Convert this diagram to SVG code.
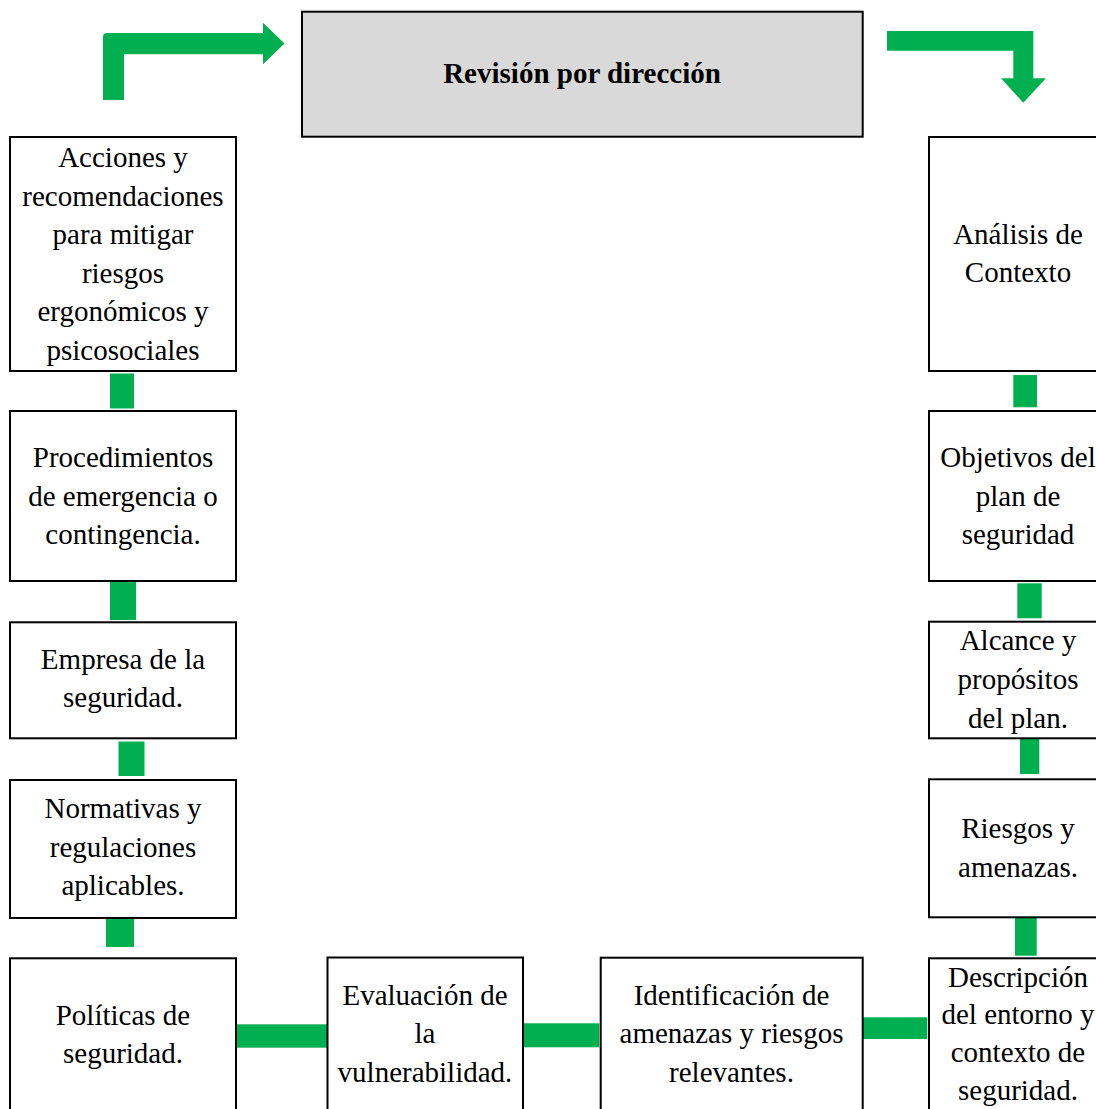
<svg xmlns="http://www.w3.org/2000/svg" width="1096" height="1109" viewBox="0 0 1096 1109">
<style>
.box{fill:#fff;stroke:#000;stroke-width:2}
.head{fill:#d9d9d9;stroke:#000;stroke-width:2}
.conn{fill:#00b050}
text{font-family:"Liberation Serif","Times New Roman",serif;font-size:29px;fill:#000;text-anchor:middle}
.bold{font-weight:bold}
</style>
<rect x="0" y="0" width="1096" height="1109" fill="#fff"/>
<g id="connectors">
<path class="conn" d="M103,100 L103,37 Q103,33 107,33 L263,33 L263,22.7 L284.5,43.5 L263,64.3 L263,54.3 L124,54.3 L124,100 Z"/>
<path class="conn" d="M887,31 L1033.3,31 L1033.3,78.3 L1046,78.3 L1023.3,102.7 L1001,78.3 L1013.3,78.3 L1013.3,50.7 L887,50.7 Z"/>
<rect class="conn" x="110" y="373.5" width="24" height="35"/>
<rect class="conn" x="110" y="581" width="26" height="39"/>
<rect class="conn" x="118.5" y="741.5" width="26" height="34.5"/>
<rect class="conn" x="106" y="908" width="28" height="39"/>
<rect class="conn" x="235" y="1024.3" width="97.7" height="23.4"/>
<rect class="conn" x="521.7" y="1023.3" width="77.6" height="24"/>
<rect class="conn" x="853.3" y="1017.3" width="74" height="21.7"/>
<rect class="conn" x="1013.3" y="375" width="23.7" height="32.3"/>
<rect class="conn" x="1017.3" y="583.3" width="24.4" height="35"/>
<rect class="conn" x="1020" y="737.3" width="19.3" height="36.7"/>
<rect class="conn" x="1015" y="916" width="21.7" height="39.7"/>
</g>
<g id="n-revision">
<rect class="head" x="302" y="11.7" width="560.7" height="125"/>
<text class="bold" x="582" y="83">Revisión por dirección</text>
</g>
<g id="n-acciones">
<rect class="box" x="10" y="137" width="226" height="234"/>
<text x="123"><tspan x="123" y="167">Acciones y</tspan><tspan x="123" y="205.6">recomendaciones</tspan><tspan x="123" y="244.2">para mitigar</tspan><tspan x="123" y="282.8">riesgos</tspan><tspan x="123" y="321.4">ergonómicos y</tspan><tspan x="123" y="360">psicosociales</tspan></text>
</g>
<g id="n-procedimientos">
<rect class="box" x="10" y="411" width="226" height="170"/>
<text><tspan x="123" y="467">Procedimientos</tspan><tspan x="123" y="506">de emergencia o</tspan><tspan x="123" y="544">contingencia.</tspan></text>
</g>
<g id="n-empresa">
<rect class="box" x="10" y="622.3" width="226" height="116"/>
<text><tspan x="123" y="669">Empresa de la</tspan><tspan x="123" y="707">seguridad.</tspan></text>
</g>
<g id="n-normativas">
<rect class="box" x="10" y="780" width="226" height="138"/>
<text><tspan x="123" y="818">Normativas y</tspan><tspan x="123" y="857">regulaciones</tspan><tspan x="123" y="895">aplicables.</tspan></text>
</g>
<g id="n-politicas">
<rect class="box" x="10" y="958.3" width="226" height="170"/>
<text><tspan x="123" y="1024.5">Políticas de</tspan><tspan x="123" y="1063.3">seguridad.</tspan></text>
</g>
<g id="n-evaluacion">
<rect class="box" x="327.5" y="957.5" width="195.5" height="170"/>
<text><tspan x="425" y="1005">Evaluación de</tspan><tspan x="425" y="1042.5">la</tspan><tspan x="425" y="1081.7">vulnerabilidad.</tspan></text>
</g>
<g id="n-identificacion">
<rect class="box" x="600.7" y="957.7" width="262" height="170"/>
<text><tspan x="731.5" y="1005">Identificación de</tspan><tspan x="731.5" y="1043.3">amenazas y riesgos</tspan><tspan x="731.5" y="1081.7">relevantes.</tspan></text>
</g>
<g id="n-descripcion">
<rect class="box" x="929" y="958.3" width="178" height="170"/>
<text><tspan x="1018" y="986.7">Descripción</tspan><tspan x="1018" y="1023.5">del entorno y</tspan><tspan x="1018" y="1061.7">contexto de</tspan><tspan x="1018" y="1100">seguridad.</tspan></text>
</g>
<g id="n-riesgos">
<rect class="box" x="929" y="779.3" width="178" height="138"/>
<text><tspan x="1018" y="838">Riesgos y</tspan><tspan x="1018" y="877">amenazas.</tspan></text>
</g>
<g id="n-alcance">
<rect class="box" x="929" y="621.7" width="178" height="116.6"/>
<text><tspan x="1018" y="650">Alcance y</tspan><tspan x="1018" y="689">propósitos</tspan><tspan x="1018" y="728">del plan.</tspan></text>
</g>
<g id="n-objetivos">
<rect class="box" x="929" y="411" width="178" height="170"/>
<text><tspan x="1018" y="467">Objetivos del</tspan><tspan x="1018" y="506">plan de</tspan><tspan x="1018" y="544">seguridad</tspan></text>
</g>
<g id="n-analisis">
<rect class="box" x="929" y="137" width="178" height="234"/>
<text><tspan x="1018" y="244">Análisis de</tspan><tspan x="1018" y="282">Contexto</tspan></text>
</g>
</svg>
